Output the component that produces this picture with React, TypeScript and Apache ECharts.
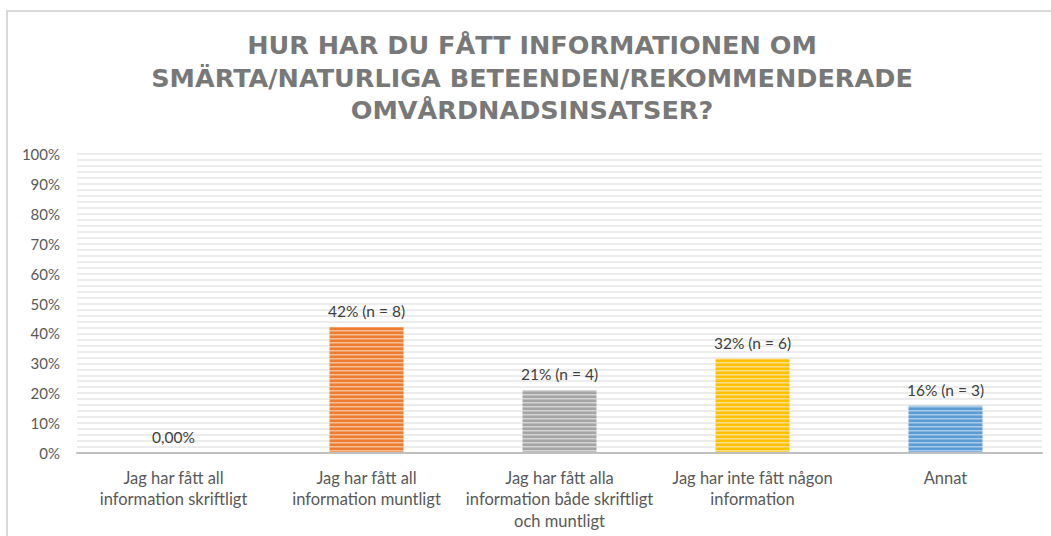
import React, { useEffect, useRef } from "react";
import * as echarts from "echarts";

const titleLines = [
  "HUR HAR DU FÅTT INFORMATIONEN OM",
  "SMÄRTA/NATURLIGA BETEENDEN/REKOMMENDERADE",
  "OMVÅRDNADSINSATSER?",
];
const categories = [
  "Jag har fått all\ninformation skriftligt",
  "Jag har fått all\ninformation muntligt",
  "Jag har fått alla\ninformation både skriftligt\noch muntligt",
  "Jag har inte fått någon\ninformation",
  "Annat",
];
const shares = [0, 0.421, 0.211, 0.316, 0.158];
const counts = [0, 8, 4, 6, 3];
const percentLabels = ["0,00%", "42%", "21%", "32%", "16%"];
const barColors = ["#5B9BD5", "#ED7D31", "#A5A5A5", "#FFC000", "#5B9BD5"];
const barLightColors = ["#A9C9E8", "#F6BE98", "#D4D4D4", "#FFE08A", "#A9C9E8"];

function stripePattern(color: string, light: string) {
  const c = document.createElement("canvas");
  c.width = 4;
  c.height = 4;
  const ctx = c.getContext("2d")!;
  ctx.fillStyle = color;
  ctx.fillRect(0, 0, 4, 4);
  ctx.fillStyle = light;
  ctx.fillRect(0, 2, 4, 1.5);
  return { image: c, repeat: "repeat" } as any;
}

export default function App() {
  const ref = useRef<HTMLDivElement>(null);
  useEffect(() => {
    if (!ref.current) return;
    const chart = echarts.init(ref.current, undefined, { renderer: "svg" });
    const font = "Lato, 'Open Sans', sans-serif";
    chart.setOption({
      animation: false,
      backgroundColor: "#ffffff",
      grid: { left: 77, right: 9, top: 154, bottom: 83, containLabel: false },
      graphic: [
        {
          type: "rect",
          shape: { x: 7, y: 11, width: 1200, height: 700 },
          style: { fill: "none", stroke: "#d9d9d9", lineWidth: 2 },
          silent: true,
          z: -10,
        },
        {
          type: "text",
          x: 532,
          y: 29,
          style: {
            text: titleLines.join("\n"),
            textAlign: "center",
            textVerticalAlign: "top",
            fill: "#787878",
            font: "bold 25.5px 'DejaVu Sans', sans-serif",
            lineHeight: 32.5,
          },
        },
      ],
      xAxis: {
        type: "category",
        data: categories,
        axisLine: { show: true, lineStyle: { color: "#bfbfbf", width: 2 } },
        axisTick: { show: false },
        axisLabel: {
          color: "#595959",
          fontFamily: font,
          fontSize: 16.5,
          lineHeight: 21.5,
          margin: 14,
          interval: 0,
        },
        z: 5,
      },
      yAxis: {
        type: "value",
        min: 0,
        max: 1,
        interval: 0.1,
        axisLine: { show: false },
        axisTick: { show: false },
        axisLabel: {
          color: "#595959",
          fontFamily: font,
          fontSize: 15,
          margin: 17,
          formatter: (v: number) => Math.round(v * 100) + "%",
        },
        splitLine: { show: true, lineStyle: { color: "#ececec", width: 2 } },
        minorTick: { show: false, splitNumber: 5 },
        minorSplitLine: { show: true, lineStyle: { color: "#ececec", width: 2 } },
      },
      series: [
        {
          type: "bar",
          barWidth: 74,
          data: shares.map((v, i) => ({
            value: v,
            itemStyle: { color: stripePattern(barColors[i], barLightColors[i]) },
          })),
          label: {
            show: true,
            position: "top",
            distance: 8,
            color: "#404040",
            fontFamily: font,
            fontSize: 15.5,
            formatter: (p: any) =>
              counts[p.dataIndex] > 0
                ? `${percentLabels[p.dataIndex]} (n = ${counts[p.dataIndex]})`
                : percentLabels[p.dataIndex],
          },
        },
      ],
    });
    return () => chart.dispose();
  }, []);
  return (
    <div
      ref={ref}
      style={{ position: "fixed", left: 0, top: 0, width: 1051, height: 536 }}
    />
  );
}
